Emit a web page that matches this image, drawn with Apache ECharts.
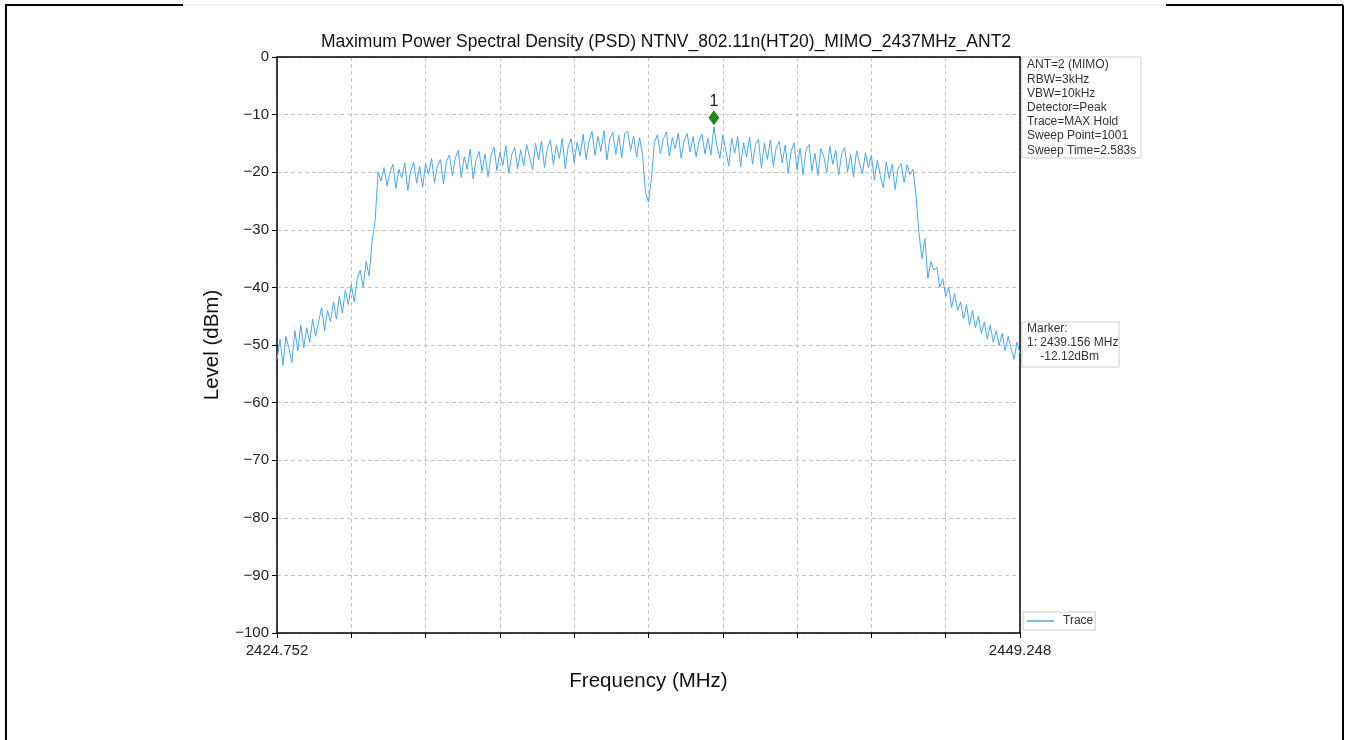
<!DOCTYPE html>
<html>
<head>
<meta charset="utf-8">
<title>Maximum PSD</title>
<script src="https://cdn.jsdelivr.net/npm/echarts@6/dist/echarts.min.js"></script>
<style>
  html, body { margin: 0; padding: 0; background: #fff; }
  #psd { width: 1348px; height: 740px; }
</style>
</head>
<body>
<div id="psd"></div>
<script>
// sweep settings
const startFreq = 2424.752;
const stopFreq = 2449.248;
const sweepPoints = 251; // reduced from 1001 for readability of the hand-read trace

// trace levels (dBm)
const levels = [
  -52.5, -49.0, -53.5, -48.5, -50.5, -53.0, -47.5, -51.0, -46.5, -50.5,
  -47.0, -49.5, -45.5, -48.5, -46.0, -43.5, -47.5, -44.0, -46.0, -42.5,
  -45.5, -41.5, -44.5, -40.5, -43.0, -39.5, -42.5, -38.5, -37.0, -40.0,
  -35.5, -38.0, -32.0, -28.5, -20.0, -21.5, -19.2, -22.4, -20.1, -18.6,
  -22.8, -19.5, -21.0, -18.4, -23.2, -19.8, -18.3, -21.9, -19.0, -22.6,
  -18.5, -20.4, -17.6, -21.8, -18.9, -17.8, -22.0, -18.2, -17.0, -20.6,
  -17.5, -16.2, -20.9, -17.3, -19.5, -16.0, -21.2, -17.8, -16.4, -19.9,
  -16.8, -20.8, -17.1, -15.6, -19.7, -16.5, -18.8, -15.4, -20.2, -16.9,
  -15.7, -19.4, -16.1, -18.9, -15.2, -17.4, -19.6, -15.0, -17.9, -14.6,
  -19.2, -15.8, -14.4, -18.7, -15.3, -17.6, -14.1, -19.4, -15.5, -14.2,
  -18.3, -14.8, -17.2, -13.4, -17.8, -14.6, -12.9, -17.1, -13.8, -16.4,
  -12.8, -17.9, -14.2, -13.1, -16.9, -13.6, -17.5, -13.3, -12.9, -16.2,
  -13.7, -17.4, -14.0, -17.0, -23.5, -25.2, -21.0, -14.8, -13.5, -16.8,
  -14.2, -13.0, -17.2, -14.0, -15.9, -13.2, -17.6, -14.4, -13.3, -16.5,
  -13.8, -17.3, -14.6, -13.4, -16.8, -14.1, -17.0, -12.12, -15.4, -17.6,
  -13.6, -16.2, -18.9, -14.1, -16.7, -13.8, -19.1, -14.9, -17.4, -13.9,
  -18.6, -15.2, -14.3, -19.3, -15.0, -17.8, -14.4, -19.0, -15.6, -14.7,
  -18.4, -15.3, -20.2, -16.4, -14.9, -19.6, -15.8, -20.4, -16.1, -15.2,
  -19.8, -16.7, -20.6, -15.9, -17.3, -20.1, -15.5, -18.6, -16.2, -20.5,
  -16.8, -15.7, -19.9, -16.9, -20.8, -16.3, -18.4, -20.3, -16.6, -19.2,
  -17.1, -21.4, -17.9, -20.6, -22.7, -18.2, -21.1, -18.6, -23.0, -19.3,
  -18.5, -21.8, -18.7, -20.4, -19.5, -24.0, -30.5, -35.0, -31.5, -38.5,
  -35.5, -37.0, -36.5, -40.0, -38.5, -41.5, -40.0, -43.5, -41.0, -44.0,
  -42.5, -45.5, -43.0, -46.5, -44.0, -47.0, -45.0, -48.0, -46.0, -49.0,
  -46.5, -49.5, -47.5, -50.0, -48.0, -51.0, -48.5, -50.5, -52.5, -49.5,
  -51.5
];

// marker 1
const markerFreq = 2439.156;
const markerLevel = -12.12;

const settingLines = [
  "ANT=2 (MIMO)",
  "RBW=3kHz",
  "VBW=10kHz",
  "Detector=Peak",
  "Trace=MAX Hold",
  "Sweep Point=1001",
  "Sweep Time=2.583s"
];
const markerLines = [
  "Marker:",
  "1: " + markerFreq.toFixed(3) + " MHz",
  "    " + markerLevel.toFixed(2) + "dBm"
];

const step = (stopFreq - startFreq) / (sweepPoints - 1);
const freqs = levels.map((v, i) => (startFreq + i * step).toFixed(3));
const markerIdx = Math.round((markerFreq - startFreq) / step);

const font = "'Liberation Sans', Arial, sans-serif";
const gridLine = { color: "#c4c4c4", type: [4, 3], width: 1 };

const chart = echarts.init(document.getElementById("psd"));
chart.setOption({
  backgroundColor: "#fff",
  animation: false,
  title: {
    text: "Maximum Power Spectral Density (PSD) NTNV_802.11n(HT20)_MIMO_2437MHz_ANT2",
    left: 661,
    top: 28,
    textAlign: "center",
    textStyle: { fontFamily: font, fontSize: 17.5, fontWeight: "normal", color: "#111" }
  },
  legend: {
    data: ["Trace"],
    left: 1023,
    top: 612,
    icon: "rect",
    itemWidth: 27,
    itemHeight: 1.5,
    itemGap: 6,
    padding: [3, 2, 3, 4],
    borderColor: "#ccc",
    borderWidth: 1,
    backgroundColor: "#fff",
    textStyle: { fontFamily: font, fontSize: 12, color: "#333", padding: [0, 0, 0, 4] }
  },
  grid: {
    left: 277,
    right: 328,
    top: 57,
    bottom: 107,
    show: true,
    borderWidth: 0,
    backgroundColor: "#fff"
  },
  xAxis: [
    {
      type: "category",
      data: freqs,
      boundaryGap: false,
      name: "Frequency (MHz)",
      nameLocation: "middle",
      nameGap: 38,
      nameTextStyle: { fontFamily: font, fontSize: 20.5, color: "#111" },
      axisLine: { onZero: false, lineStyle: { color: "#000", width: 1.5 } },
      axisTick: { interval: 24, length: 5, lineStyle: { color: "#000" } },
      axisLabel: {
        interval: (idx) => idx === 0 || idx === sweepPoints - 1,
        fontFamily: font,
        fontSize: 15,
        color: "#222",
        margin: 10
      },
      splitLine: { show: true, interval: 24, lineStyle: gridLine }
    },
    {
      // top spine
      type: "category",
      data: freqs,
      boundaryGap: false,
      position: "top",
      axisLine: { onZero: false, lineStyle: { color: "#000", width: 1.5 } },
      axisTick: { show: false },
      axisLabel: { show: false },
      splitLine: { show: false }
    }
  ],
  yAxis: [
    {
      type: "value",
      min: -100,
      max: 0,
      interval: 10,
      name: "Level (dBm)",
      nameLocation: "middle",
      nameGap: 54,
      nameTextStyle: { fontFamily: font, fontSize: 20.5, color: "#111" },
      axisLine: { show: true, onZero: false, lineStyle: { color: "#000", width: 1.5 } },
      axisTick: { show: true, length: 5, lineStyle: { color: "#000" } },
      axisLabel: {
        fontFamily: font,
        fontSize: 15,
        color: "#222",
        margin: 8,
        formatter: (v) => String(v).replace("-", "\u2212")
      },
      splitLine: { lineStyle: gridLine }
    },
    {
      // right spine
      type: "value",
      min: -100,
      max: 0,
      position: "right",
      axisLine: { show: true, onZero: false, lineStyle: { color: "#000", width: 1.5 } },
      axisTick: { show: false },
      axisLabel: { show: false },
      splitLine: { show: false }
    }
  ],
  series: [
    {
      name: "Trace",
      type: "line",
      data: levels,
      showSymbol: false,
      symbol: "none",
      color: "#4aa8ee",
      lineStyle: { width: 1, color: "#4aa8ee" },
      markPoint: {
        symbol: "diamond",
        symbolSize: [11, 15],
        symbolOffset: [0, -9],
        itemStyle: { color: "#1e8a1e" },
        label: {
          show: true,
          position: "top",
          distance: 1,
          formatter: "1",
          fontFamily: font,
          fontSize: 16,
          color: "#222"
        },
        data: [{ coord: [markerIdx, markerLevel] }]
      }
    }
  ],
  graphic: [
    // outer page frame
    { type: "line", shape: { x1: 5, y1: 5, x2: 183, y2: 5 }, style: { stroke: "#000", lineWidth: 2 } },
    { type: "line", shape: { x1: 183, y1: 5, x2: 1166, y2: 5 }, style: { stroke: "#e8e8e8", lineWidth: 1 } },
    { type: "line", shape: { x1: 1166, y1: 5, x2: 1343, y2: 5 }, style: { stroke: "#000", lineWidth: 2 } },
    { type: "line", shape: { x1: 6, y1: 5, x2: 6, y2: 740 }, style: { stroke: "#000", lineWidth: 2 } },
    { type: "line", shape: { x1: 1343, y1: 5, x2: 1343, y2: 740 }, style: { stroke: "#000", lineWidth: 2 } },
    // settings box
    {
      type: "rect",
      shape: { x: 1022, y: 57, width: 119, height: 101 },
      style: { fill: "#fff", stroke: "#ccc", lineWidth: 1 }
    },
    {
      type: "text",
      left: 1027,
      top: 58,
      style: {
        text: settingLines.join("\n"),
        fontFamily: font,
        fontSize: 12,
        lineHeight: 14.2,
        fill: "#333"
      }
    },
    // marker box
    {
      type: "rect",
      shape: { x: 1022, y: 322, width: 97, height: 45 },
      style: { fill: "#fff", stroke: "#ccc", lineWidth: 1 }
    },
    {
      type: "text",
      left: 1027,
      top: 322,
      style: {
        text: markerLines.join("\n"),
        fontFamily: font,
        fontSize: 12,
        lineHeight: 14,
        fill: "#333"
      }
    }
  ]
});
</script>
</body>
</html>
